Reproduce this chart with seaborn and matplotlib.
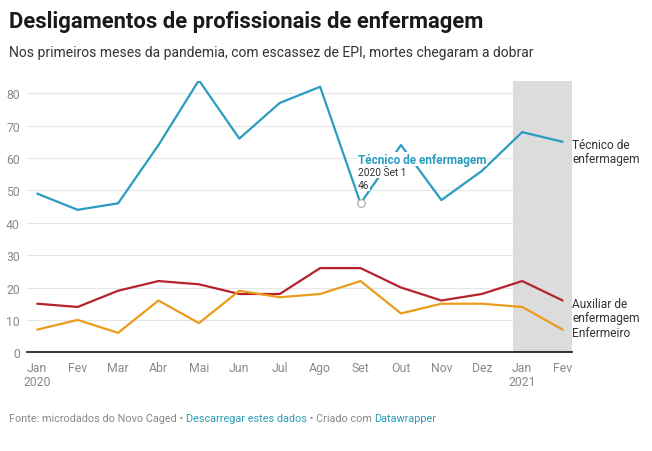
import pandas as pd
import numpy as np
import seaborn as sns
import matplotlib.pyplot as plt

# dados
meses = ["Jan\n2020", "Fev", "Mar", "Abr", "Mai", "Jun", "Jul", "Ago",
         "Set", "Out", "Nov", "Dez", "Jan\n2021", "Fev"]
tecnico = [49, 44, 46, 64, 84, 66, 77, 82, 46, 64, 47, 56, 68, 65]
auxiliar = [15, 14, 19, 22, 21, 18, 18, 26, 26, 20, 16, 18, 22, 16]
enfermeiro = [7, 10, 6, 16, 9, 19, 17, 18, 22, 12, 15, 15, 14, 7]
y_ticks = [0, 10, 20, 30, 40, 50, 60, 70, 80]

series = ["Técnico de enfermagem", "Auxiliar de enfermagem", "Enfermeiro"]
rotulos = ["Técnico de\nenfermagem", "Auxiliar de\nenfermagem", "Enfermeiro"]
cores = ["#2a9cc0", "#b5222c", "#eb9b1a"]

idx = np.arange(len(meses))
df = pd.DataFrame({
    "mes": np.tile(idx, 3),
    "valor": tecnico + auxiliar + enfermeiro,
    "cargo": np.repeat(series, len(meses)),
})

sns.set_style("white")
plt.rcParams['font.family'] = ['Roboto', 'DejaVu Sans']

fig = plt.figure(figsize=(6.52, 4.52), dpi=100)
ax = fig.add_axes([0.041, 0.2184, 0.8368, 0.5996])

# grade e faixa cinza (2021)
for t in y_ticks[1:]:
    ax.axhline(t, color="#e6e6e6", lw=0.8, zorder=0)
ax.axvspan(11.78, 13.24, color="#dcdcdc", lw=0, zorder=1)

sns.lineplot(data=df, x="mes", y="valor", hue="cargo", palette=cores,
             hue_order=series, linewidth=1.6, legend=False, ax=ax, zorder=3)

ax.set_xlim(-0.26, 13.24)
ax.set_ylim(0, 83.7)
ax.set_xticks(idx)
ax.set_xticklabels(meses, linespacing=1.15)
ax.set_yticks(y_ticks)
ax.set_xlabel("")
ax.set_ylabel("")
for s in ["top", "right", "left"]:
    ax.spines[s].set_visible(False)
ax.spines["bottom"].set_color("#111111")
ax.spines["bottom"].set_linewidth(1.2)
ax.spines["bottom"].set_zorder(4)
ax.tick_params(axis="both", length=0, labelsize=8.8, colors="#8a8a8a")
ax.tick_params(axis="x", pad=6)
ax.tick_params(axis="y", pad=5)

# rótulos à direita
finais = [tecnico[-1], auxiliar[-1], enfermeiro[-1]]
for rot, v in zip(rotulos, finais):
    ax.annotate(rot, xy=(idx[-1], v), xytext=(7, 2.5), textcoords="offset points",
                va="top", ha="left", fontsize=8.6, color="#333333",
                linespacing=1.05, annotation_clip=False)

# destaque em Set
i_set = 8
ax.scatter([i_set], [tecnico[i_set]], s=30, facecolor="white",
           edgecolor="#b0b0b0", linewidth=0.9, zorder=5)
caixa = dict(facecolor="white", edgecolor="none", pad=0.6)
ax.text(7.94, 58.6, "Técnico de enfermagem", fontsize=8.5, fontweight="bold",
        color="#2a9cc0", va="baseline", ha="left", bbox=caixa, zorder=6)
ax.text(7.94, 54.6, "2020 Set 1", fontsize=7.3, color="#333333",
        va="baseline", ha="left", bbox=caixa, zorder=6)
ax.text(7.94, 50.8, "46", fontsize=7.3, color="#333333",
        va="baseline", ha="left", bbox=caixa, zorder=6)

# título e subtítulo
fig.text(9 / 652, 1 - 28 / 452, "Desligamentos de profissionais de enfermagem",
         fontsize=15.8, fontweight="bold", color="#1a1a1a", va="baseline")
fig.text(9 / 652, 1 - 57 / 452,
         "Nos primeiros meses da pandemia, com escassez de EPI, mortes chegaram a dobrar",
         fontsize=10, color="#333333", va="baseline")

# rodapé
partes = [("Fonte: microdados do Novo Caged • ", "#888888"),
          ("Descarregar estes dados", "#2c9bb5"),
          (" • Criado com ", "#888888"),
          ("Datawrapper", "#2c9bb5")]
fig.canvas.draw()
r = fig.canvas.get_renderer()
x = 9 / 652
for txt, c in partes:
    t = fig.text(x, 1 - 422 / 452, txt, fontsize=7.8, color=c, va="baseline")
    x += t.get_window_extent(renderer=r).width / fig.bbox.width

fig.savefig("out.png", dpi=100)
